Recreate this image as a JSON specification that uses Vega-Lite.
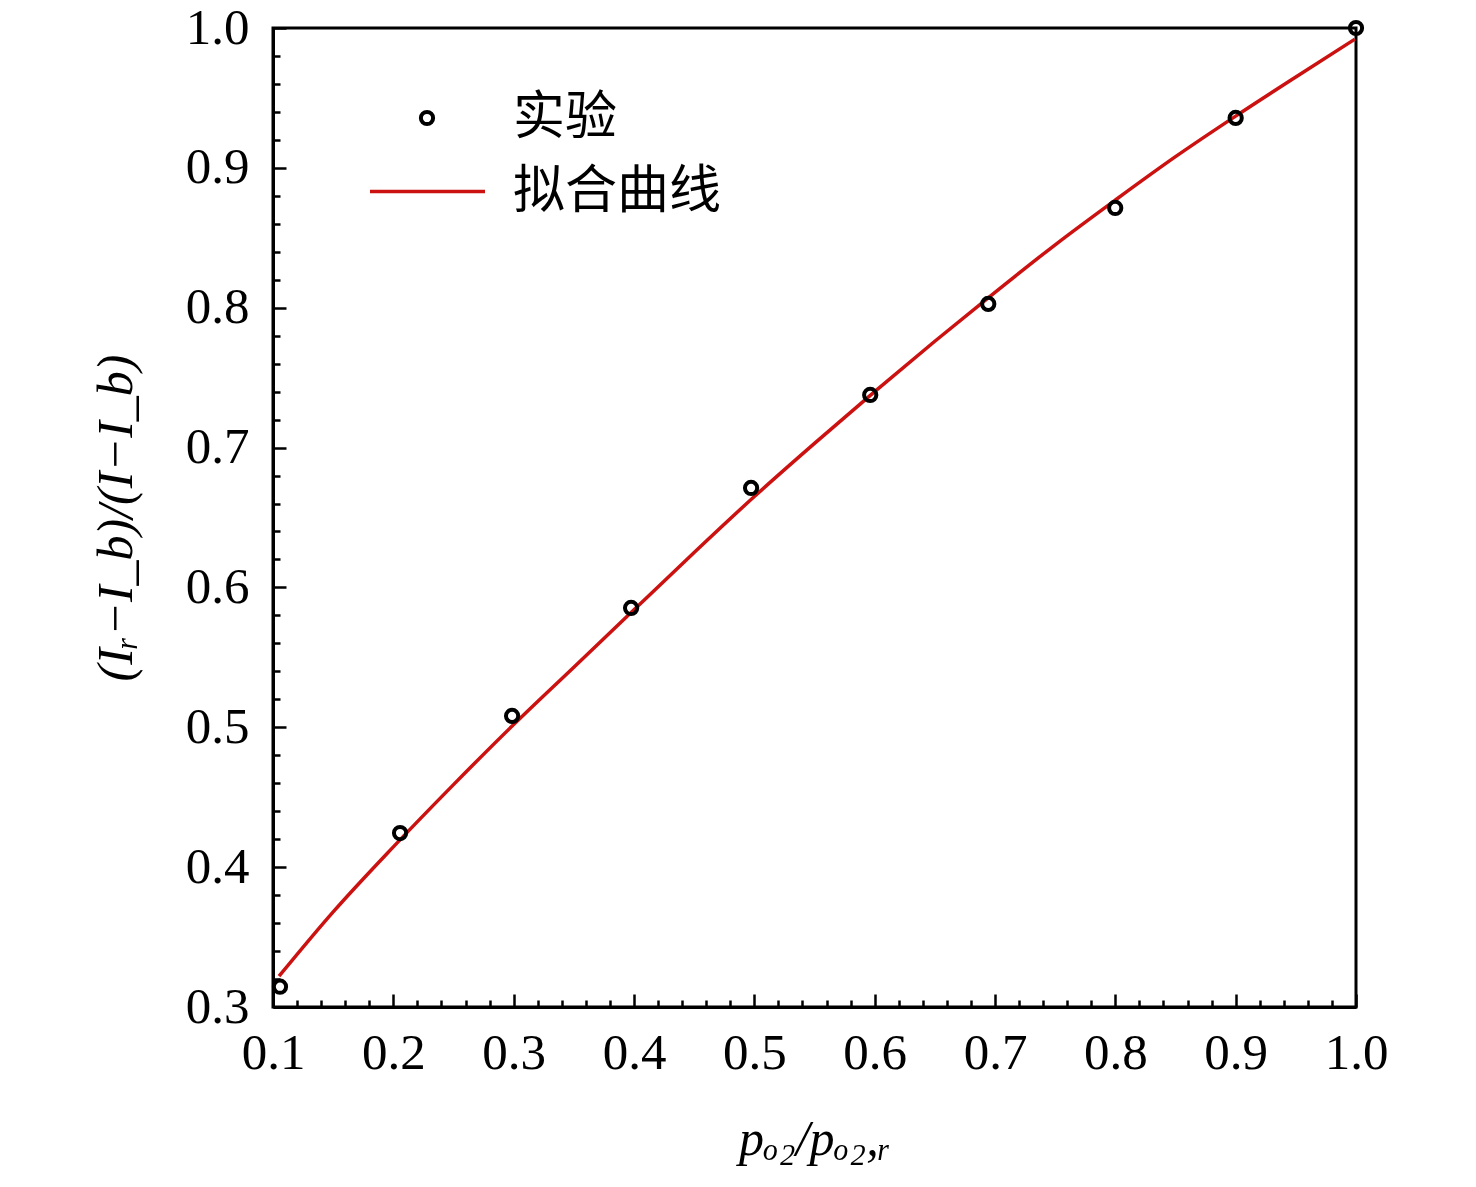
{
  "$schema": "https://vega.github.io/schema/vega-lite/v6.json",
  "width": 1083,
  "height": 979,
  "autosize": "none",
  "padding": {"left": 273, "top": 28, "right": 120, "bottom": 180},
  "background": "white",
  "config": {
    "view": {"stroke": "black", "strokeWidth": 3},
    "axis": {
      "labelFont": "Liberation Serif",
      "labelFontSize": 51,
      "labelColor": "black",
      "titleFont": "Liberation Serif",
      "titleFontSize": 50,
      "titleFontWeight": "normal",
      "titleColor": "black",
      "domainColor": "black",
      "domainWidth": 3,
      "tickColor": "black",
      "tickWidth": 2.5,
      "grid": false,
      "labelFlush": false,
      "labelOverlap": false,
      "labelBound": false
    },
    "legend": {
      "labelFont": "Noto Sans CJK SC",
      "labelFontSize": 52,
      "labelColor": "black",
      "labelLimit": 0,
      "padding": 0
    }
  },
  "datasets": {
    "pts": [
      {"x": 0.1058, "y": 0.3145, "series": "实验"},
      {"x": 0.2056, "y": 0.4244, "series": "实验"},
      {"x": 0.2987, "y": 0.5081, "series": "实验"},
      {"x": 0.3976, "y": 0.5853, "series": "实验"},
      {"x": 0.4973, "y": 0.6711, "series": "实验"},
      {"x": 0.5963, "y": 0.7376, "series": "实验"},
      {"x": 0.6944, "y": 0.8027, "series": "实验"},
      {"x": 0.7999, "y": 0.8713, "series": "实验"},
      {"x": 0.9, "y": 0.9357, "series": "实验"},
      {"x": 1.0, "y": 1.0, "series": "实验"}
    ],
    "fit": [
      {"x": 0.105, "y": 0.322, "series": "拟合曲线"},
      {"x": 0.15, "y": 0.368, "series": "拟合曲线"},
      {"x": 0.2, "y": 0.4145, "series": "拟合曲线"},
      {"x": 0.25, "y": 0.459, "series": "拟合曲线"},
      {"x": 0.3, "y": 0.502, "series": "拟合曲线"},
      {"x": 0.35, "y": 0.543, "series": "拟合曲线"},
      {"x": 0.4, "y": 0.584, "series": "拟合曲线"},
      {"x": 0.45, "y": 0.625, "series": "拟合曲线"},
      {"x": 0.5, "y": 0.665, "series": "拟合曲线"},
      {"x": 0.55, "y": 0.703, "series": "拟合曲线"},
      {"x": 0.6, "y": 0.740, "series": "拟合曲线"},
      {"x": 0.65, "y": 0.776, "series": "拟合曲线"},
      {"x": 0.7, "y": 0.811, "series": "拟合曲线"},
      {"x": 0.75, "y": 0.845, "series": "拟合曲线"},
      {"x": 0.8, "y": 0.877, "series": "拟合曲线"},
      {"x": 0.85, "y": 0.908, "series": "拟合曲线"},
      {"x": 0.9, "y": 0.937, "series": "拟合曲线"},
      {"x": 0.95, "y": 0.965, "series": "拟合曲线"},
      {"x": 0.999, "y": 0.992, "series": "拟合曲线"}
    ]
  },
  "encoding": {
    "x": {
      "field": "x",
      "type": "quantitative",
      "scale": {"domain": [0.1, 1.0], "nice": false, "zero": false},
      "axis": {
        "title": "pₒ₂/pₒ₂,ᵣ",
        "titleFontStyle": "italic",
        "titlePadding": 30,
        "values": [0.1,0.12,0.14,0.16,0.18,0.2,0.22,0.24,0.26,0.28,0.3,0.32,0.34,0.36,0.38,0.4,0.42,0.44,0.46,0.48,0.5,0.52,0.54,0.56,0.58,0.6,0.62,0.64,0.66,0.68,0.7,0.72,0.74,0.76,0.78,0.8,0.82,0.84,0.86,0.88,0.9,0.92,0.94,0.96,0.98,1.0],
        "labelExpr": "abs(datum.value*10 - round(datum.value*10)) < 0.001 ? format(datum.value, '.1f') : ''",
        "tickSize": {"condition": {"test": "abs(datum.value*10 - round(datum.value*10)) < 0.001", "value": -13}, "value": -7},
        "labelPadding": 34
      }
    },
    "y": {
      "field": "y",
      "type": "quantitative",
      "scale": {"domain": [0.3, 1.0], "nice": false, "zero": false},
      "axis": {
        "title": "(Iᵣ−I_b)/(I−I_b)",
        "titleFontStyle": "italic",
        "titlePadding": 44,
        "values": [0.3,0.32,0.34,0.36,0.38,0.4,0.42,0.44,0.46,0.48,0.5,0.52,0.54,0.56,0.58,0.6,0.62,0.64,0.66,0.68,0.7,0.72,0.74,0.76,0.78,0.8,0.82,0.84,0.86,0.88,0.9,0.92,0.94,0.96,0.98,1.0],
        "labelExpr": "abs(datum.value*10 - round(datum.value*10)) < 0.001 ? format(datum.value, '.1f') : ''",
        "tickSize": {"condition": {"test": "abs(datum.value*10 - round(datum.value*10)) < 0.001", "value": -13}, "value": -7},
        "labelPadding": 37
      }
    }
  },
  "layer": [
    {
      "data": {"name": "fit"},
      "mark": {"type": "line", "strokeWidth": 3.5, "interpolate": "monotone"},
      "encoding": {
        "color": {
          "field": "series",
          "type": "nominal",
          "scale": {"domain": ["拟合曲线"], "range": ["#cc1111"]},
          "legend": {
            "title": null,
            "orient": "none",
            "legendX": 95,
            "legendY": 104,
            "symbolType": "stroke",
            "symbolSize": 13225,
            "symbolStrokeWidth": 3.5,
            "labelOffset": 26,
            "labelLimit": 0
          }
        }
      }
    },
    {
      "data": {"name": "pts"},
      "mark": {"type": "point", "filled": false, "color": "black", "strokeWidth": 4, "size": 150, "opacity": 1},
      "encoding": {
        "shape": {
          "field": "series",
          "type": "nominal",
          "scale": {"domain": ["实验"], "range": ["circle"]},
          "legend": {
            "title": null,
            "orient": "none",
            "legendX": 128,
            "legendY": 64,
            "symbolSize": 150,
            "symbolStrokeWidth": 4,
            "symbolStrokeColor": "black",
            "symbolFillColor": "transparent",
            "symbolOpacity": 1,
            "labelOffset": 60,
            "labelLimit": 0
          }
        }
      }
    }
  ]
}
